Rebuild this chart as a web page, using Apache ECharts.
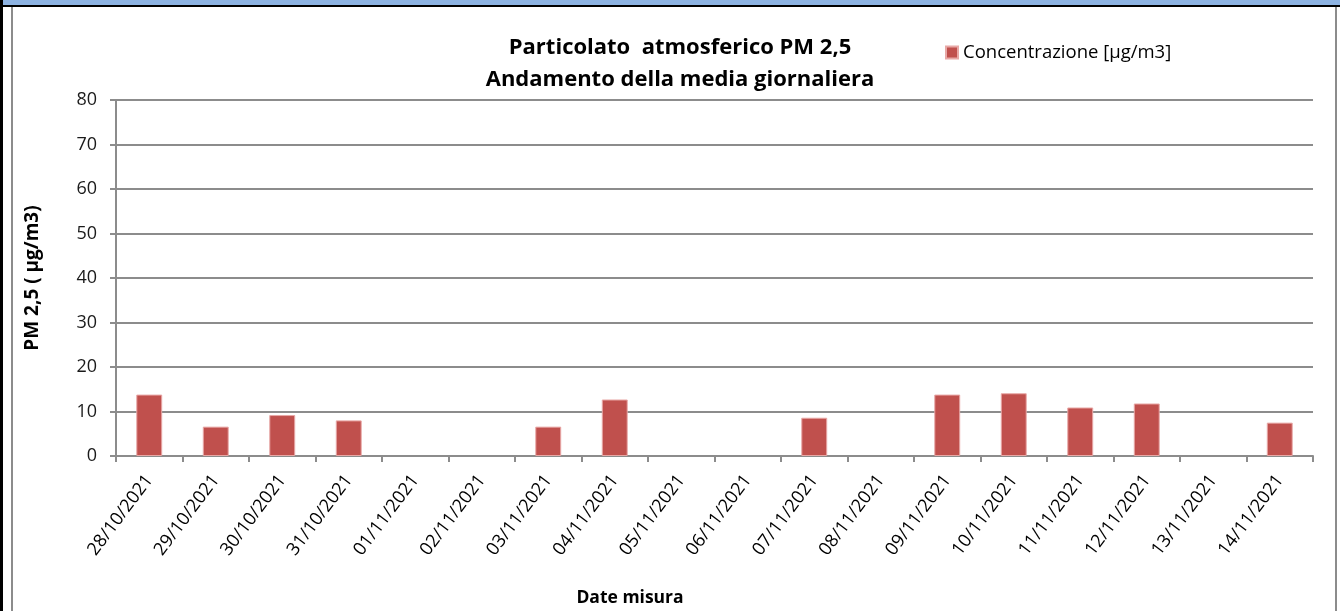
<!DOCTYPE html>
<html><head><meta charset="utf-8">
<script src="https://cdn.jsdelivr.net/npm/echarts@6/dist/echarts.min.js"></script>
<style>html,body{margin:0;padding:0;background:#fff}#c{width:1340px;height:611px}</style>
</head><body><div id="c"></div>
<script>
const categories = ["28/10/2021","29/10/2021","30/10/2021","31/10/2021","01/11/2021","02/11/2021","03/11/2021","04/11/2021","05/11/2021","06/11/2021","07/11/2021","08/11/2021","09/11/2021","10/11/2021","11/11/2021","12/11/2021","13/11/2021","14/11/2021"];
const values = [13.8, 6.6, 9.2, 8.0, null, null, 6.6, 12.7, null, null, 8.6, null, 13.8, 14.1, 10.9, 11.8, null, 7.5];
const seriesName = "Concentrazione [µg/m3]";
const font = "'Open Sans', sans-serif";
const chart = echarts.init(document.getElementById('c'));
chart.setOption({
  animation: false,
  backgroundColor: '#fff',
  title: [
    {text: 'Particolato  atmosferico PM 2,5\nAndamento della media giornaliera', left: 675, top: 27, textAlign: 'center',
     textStyle: {fontFamily: font, fontWeight: 'bold', fontSize: 22, color: '#000', lineHeight: 32}},
    {text: 'Date misura', left: 625, top: 584, textAlign: 'center',
     textStyle: {fontFamily: font, fontWeight: 'bold', fontSize: 17.5, color: '#000'}}
  ],
  legend: {left: 945, top: 43, padding: 0, itemWidth: 12, itemHeight: 12, itemGap: 5, icon: 'rect',
    textStyle: {fontFamily: font, fontSize: 18.5, color: '#000', padding: [0, 0, 0, 0]}},
  grid: {left: 116, right: 27, top: 100, bottom: 155, containLabel: false},
  xAxis: {type: 'category', data: categories, boundaryGap: true,
    axisLine: {lineStyle: {color: '#8c8c8c', width: 2}},
    axisTick: {show: true, alignWithLabel: false, length: 6, lineStyle: {color: '#8c8c8c', width: 2}},
    axisLabel: {rotate: 53, fontFamily: font, fontSize: 18, color: '#000', margin: 21, interval: 0}},
  yAxis: {type: 'value', min: 0, max: 80, interval: 10,
    name: 'PM 2,5 ( µg/m3)', nameLocation: 'middle', nameGap: 74, nameRotate: 90,
    nameTextStyle: {fontFamily: font, fontWeight: 'bold', fontSize: 19, color: '#000'},
    axisLine: {show: true, lineStyle: {color: '#8c8c8c', width: 2}},
    axisTick: {show: true, length: 6, lineStyle: {color: '#8c8c8c', width: 2}},
    axisLabel: {fontFamily: font, fontSize: 18, color: '#1a1a1a', margin: 19},
    splitLine: {show: true, lineStyle: {color: '#8c8c8c', width: 2}}},
  series: [{name: seriesName, type: 'bar', data: values, barWidth: '39%',
    itemStyle: {color: '#c0504d', borderColor: '#e8a8a6', borderWidth: 1}}],
  graphic: [
    {type: 'rect', shape: {x: 0, y: 0, width: 1340, height: 5}, style: {fill: '#8db3e2'}, z: 100},
    {type: 'rect', shape: {x: 0, y: 5, width: 1340, height: 2}, style: {fill: '#000'}, z: 100},
    {type: 'rect', shape: {x: 0, y: 0, width: 3, height: 611}, style: {fill: '#000'}, z: 100},
    {type: 'rect', shape: {x: 11, y: 7, width: 2, height: 604}, style: {fill: '#8c8c8c'}, z: 100},
    {type: 'rect', shape: {x: 1335, y: 7, width: 2, height: 604}, style: {fill: '#8c8c8c'}, z: 100}
  ]
});
</script></body></html>
